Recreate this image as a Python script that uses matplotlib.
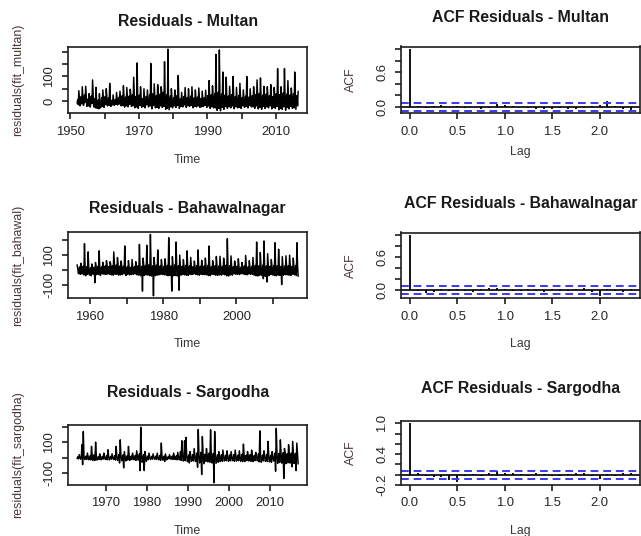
import numpy as np
import matplotlib
matplotlib.use("Agg")
import matplotlib.pyplot as plt

plt.rcParams['font.family'] = ['Liberation Sans', 'DejaVu Sans']

# residual series, 6 values per year (bimonthly)
multan_start = 1952.0
multan_res = [
    -8, 6, -15, 42, 10, -20,  -5, 18, -12, 58, 22, -18,  -10, 25, -6, 60, 15, -22,
    -14, 8, -20, 30, 12, -25,  -6, 20, -10, 86, 28, -24,  -18, 10, -28, 55, 6, -30,
    -20, 4, -32, 30, -5, -28,  -12, 14, -22, 45, 8, -26,  -10, 18, -15, 50, 20, -20,
    -8, 12, -18, 72, 16, -22,  -14, 2, -16, 25, 4, -18,  -10, 6, -14, 35, 8, -16,
    -6, 15, -12, 40, 12, -20,  -12, 22, -18, 62, 24, -25,  -8, 16, -20, 55, 18, -24,
    -10, 20, -14, 48, 26, -22,  -15, 25, -20, 97, 30, -28,  -12, 18, -24, 155, 22, -30,
    -8, 24, -18, 58, 20, -26,  -14, 10, -22, 50, 14, -28,  -10, 18, -16, 45, 12, -24,
    -12, 26, -20, 153, 28, -32,  -10, 30, -18, 70, 24, -28,  -16, 22, -26, 67, 35, -30,
    -8, 28, -20, 58, 40, -26,  -14, 35, -22, 160, 30, -34,  -18, 25, -30, 211, 20, -36,
    -10, 20, -24, 50, 15, -28,  -12, 14, -20, 45, 18, -26,  -8, 22, -18, 104, 12, -30,
    -14, 10, -22, 35, 8, -24,  -10, 18, -16, 55, 14, -26,  -12, 14, -20, 50, 10, -22,
    -8, 20, -18, 58, 16, -28,  -10, 12, -22, 45, 14, -24,  -14, 16, -20, 53, 10, -26,
    -12, 10, -24, 40, 8, -22,  -8, 14, -18, 44, 12, -26,  -10, 22, -20, 83, 18, -30,
    -14, 26, -24, 62, 22, -28,  -12, 30, -28, 190, 25, -38,  -16, 35, -30, 208, 28, -40,
    -10, 28, -26, 118, 30, -34,  -14, 24, -22, 97, 20, -30,  -12, 20, -24, 60, 18, -28,
    -10, 26, -20, 100, 22, -32,  -14, 18, -24, 55, 14, -28,  -12, 22, -26, 72, 16, -30,
    -10, 14, -20, 45, 12, -26,  -8, 20, -22, 100, 18, -28,  -12, 16, -18, 50, 14, -24,
    -10, 22, -24, 58, 20, -30,  -14, 26, -20, 86, 24, -32,  -12, 30, -26, 94, 22, -34,
    -10, 24, -22, 60, 26, -30,  -8, 28, -24, 58, 20, -28,  -12, 22, -20, 67, 30, -32,
    -14, 18, -26, 55, 24, -30,  -10, 30, -22, 132, 28, -36,  -12, 26, -30, 58, 22, -34,
    -8, 32, -24, 132, 30, -38,  -14, 28, -26, 83, 26, -32,  -12, 24, -22, 53, 20, -30,
    -10, 30, -28, 118, 26, -34,  -8, 22, -20, 39,
]

bahawal_start = 1956.5
bahawal_res = [
    33, 10, -25,
    -15, 20, -30, 45, 12, -28,  -20, 25, -35, 178, 30, -40,  -18, 22, -30, 122, 18, -35,
    -12, 15, -40, 40, 20, -30,  -20, 18, -87, 50, 25, -32,  -15, 24, -30, 129, 22, -38,
    -18, 20, -28, 51, 30, -30,  -14, 26, -32, 62, 35, -28,  -16, 22, -30, 55, 38, -34,
    -20, 28, -36, 122, 40, -30,  -14, 32, -30, 84, 45, -36,  -18, 26, -34, 60, 30, -32,
    -12, 24, -27, 162, 28, -38,  -16, 20, -30, 62, 25, -34,  -20, 18, -32, 70, 22, -30,
    -14, 22, -28, 55, 26, -34,  -18, 28, -36, 173, 30, -40,  -22, 24, -144, 80, 35, -38,
    -16, 30, -34, 167, 40, -36,  -20, 35, -40, 240, 45, -42,  -18, 28, -176, 84, 30, -40,
    -14, 32, -36, 135, 38, -34,  -16, 26, -30, 70, 28, -32,  -20, 24, -34, 75, 30, -36,
    -18, 30, -40, 218, 42, -38,  -22, 26, -144, 90, 35, -40,  -16, 34, -38, 189, 40, -42,
    -20, 28, -138, 100, 32, -36,  -14, 24, -32, 70, 28, -34,  -18, 30, -36, 129, 35, -38,
    -16, 26, -30, 85, 30, -32,  -12, 22, -28, 60, 25, -30,  -18, 28, -34, 135, 32, -36,
    -14, 24, -30, 65, 28, -32,  -16, 26, -32, 80, 30, -34,  -20, 30, -38, 162, 35, -40,
    -14, 22, -30, 62, 26, -32,  -18, 28, -36, 91, 32, -38,  -16, 26, -34, 92, 30, -36,
    -14, 24, -30, 80, 28, -34,  -20, 32, -40, 211, 38, -42,  -16, 28, -34, 95, 30, -36,
    -12, 22, -28, 60, 25, -30,  -14, 24, -30, 75, 28, -32,  -10, 18, -26, 50, 22, -28,
    -16, 26, -32, 98, 30, -34,  -12, 20, -28, 62, 24, -30,  -16, 24, -30, 84, 28, -36,
    -20, 30, -40, 189, 35, -42,  -18, 28, -36, 118, 32, -38,  -22, 32, -60, 196, 36, -44,
    -18, 26, -82, 110, 30, -40,  -14, 24, -32, 70, 28, -34,  -20, 30, -38, 184, 34, -40,
    -18, 28, -36, 140, 30, -38,  -16, 24, -100, 90, 28, -36,  -14, 26, -32, 95, 30, -34,
    -18, 28, -36, 100, 32, -38,  -16, 24, -30, 80, 28, -34,  -20, 30, -38, 184, 35, -42,
]

sargodha_start = 1963.0
sargodha_res = [
    -4, 6, -8, 20, 5, -10,  -6, 85, -46, 172, 10, -12,  -8, 10, -12, 30, 8, -14,
    -6, 12, -15, 74, 14, -18,  -10, 20, -18, 102, 15, -16,  -8, 6, -12, 25, 10, -14,
    -6, 8, -10, 30, 6, -12,  -8, 12, -14, 52, 10, -15,  -5, 8, -10, 25, 6, -12,
    -8, 14, -16, 74, 12, -18,  -10, 20, -35, 117, 15, -20,  -12, 18, -67, 40, 10, -22,
    -8, 12, -16, 74, 14, -18,  -6, 10, -12, 30, 8, -14,  -10, 15, -18, 45, 12, -16,
    -12, 25, -85, 200, 20, -30,  -15, 20, -85, 40, 15, -25,  -8, 10, -14, 30, 8, -12,
    -6, 8, -10, 25, 6, -10,  -8, 10, -12, 30, 8, -14,  -10, 15, -18, 96, 12, -16,
    -12, 10, -25, 25, 6, -14,  -5, 6, -8, 20, 5, -10,  -8, 10, -12, 30, 8, -12,
    -6, 12, -14, 35, 10, -14,  -10, 40, -18, 111, 20, -22,  -12, 111, -20, 133, 25, -26,
    -14, 18, -35, 40, 15, -24,  -12, 20, -22, 60, 18, -25,  -18, 30, -63, 185, 25, -35,
    -15, 35, -111, 139, 30, -40,  -12, 22, -25, 60, 20, -28,  -16, 30, -30, 183, 25, -35,
    -20, 28, -165, 172, 22, -38,  -12, 18, -30, 40, 15, -26,  -10, 20, -24, 50, 16, -22,
    -8, 16, -20, 45, 14, -24,  -10, 18, -22, 40, 12, -20,  -12, 20, -24, 50, 15, -22,
    -8, 16, -20, 45, 12, -24,  -10, 22, -26, 89, 18, -25,  -8, 16, -20, 40, 14, -22,
    -12, 20, -24, 50, 16, -26,  -10, 15, -20, 35, 12, -20,  -14, 25, -28, 176, 20, -30,
    -10, 18, -22, 45, 15, -24,  -12, 22, -26, 107, 18, -28,  -10, 16, -30, 40, 14, -22,
    -16, 30, -89, 193, 35, -38,  -14, 28, -32, 117, 30, -36,  -18, 32, -137, 60, 28, -40,
    -14, 26, -34, 85, 30, -36,  -16, 30, -60, 107, 32, -38,  -18, 28, -85, 96, 30, -40,
]

# autocorrelations, lag 0..28 (monthly lags shown in years)
multan_acf = [1.0, 0.01, -0.02, 0.02, 0.03, -0.01, 0.01, -0.02, 0.0, -0.03, -0.02,
              0.05, 0.03, 0.02, -0.01, -0.02, -0.03, -0.04, -0.03, -0.02, -0.03,
              -0.04, -0.02, 0.02, 0.03, 0.10, 0.02, -0.03, -0.05]
bahawal_acf = [1.0, -0.02, -0.05, -0.04, 0.01, -0.02, 0.01, -0.03, -0.04, 0.02, 0.03,
               0.03, 0.02, -0.02, -0.03, 0.01, -0.03, -0.04, 0.01, -0.02, -0.03,
               0.02, 0.03, -0.04, -0.11, 0.02, -0.03, -0.04, 0.02]
sargodha_acf = [1.0, 0.03, -0.03, -0.05, -0.04, -0.10, -0.14, -0.03, 0.02, -0.02, 0.03,
                0.07, 0.04, 0.03, 0.02, -0.02, 0.03, 0.02, -0.03, -0.02, 0.02,
                0.03, 0.03, -0.02, -0.08, 0.02, -0.03, 0.04, 0.03]
ci = [0.070, 0.073, 0.077]

names = ["Multan", "Bahawalnagar", "Sargodha"]
ylabels = ["residuals(fit_multan)", "residuals(fit_bahawal)", "residuals(fit_sargodha)"]
series = [(multan_start, multan_res), (bahawal_start, bahawal_res), (sargodha_start, sargodha_res)]
acfs = [multan_acf, bahawal_acf, sargodha_acf]

res_yticks = [[0, 50, 100, 150, 200], [-100, 0, 100, 200], [-100, 0, 100, 200]]
res_ylabs = [["0", "", "100", "", ""], ["-100", "", "100", ""], ["-100", "", "100", ""]]
res_xticks = [[1950, 1960, 1970, 1980, 1990, 2000, 2010],
              [1960, 1970, 1980, 1990, 2000, 2010],
              [1970, 1980, 1990, 2000, 2010]]
res_xlabs = [["1950", "", "1970", "", "1990", "", "2010"],
             ["1960", "", "1980", "", "2000", ""],
             ["1970", "1980", "1990", "2000", "2010"]]
acf_yticks = [[0, 0.2, 0.4, 0.6, 0.8, 1.0], [0, 0.2, 0.4, 0.6, 0.8, 1.0],
              [-0.2, 0, 0.2, 0.4, 0.6, 0.8, 1.0]]
acf_ylabs = [["0.0", "", "", "0.6", "", ""], ["0.0", "", "", "0.6", "", ""],
             ["-0.2", "", "", "0.4", "", "", "1.0"]]

W, H = 641, 536
fig = plt.figure(figsize=(W / 100, H / 100), dpi=100)

# boxes in pixels: (left, top, right, bottom)
left_boxes = [(68.3, 46.7, 307, 113.3), (68.3, 232, 307, 298.3), (68.3, 425, 307, 485)]
right_boxes = [(401, 46.5, 640, 113.3), (401, 232.5, 640, 298.3), (401, 421, 640, 485)]
left_title_y = [22, 208, 393]
right_title_y = [17, 203, 388]
left_xlab_y = [160, 344, 531]
right_xlab_y = [152, 344, 531]

txt = '#262626'


def make_ax(box):
    l, t, r, b = box
    return fig.add_axes([l / W, 1 - b / H, (r - l) / W, (b - t) / H])


def style(ax, box, xlab_y, ylab, xlab):
    l, t, r, b = box
    for s in ax.spines.values():
        s.set_linewidth(1.2)
        s.set_color('#1e1e1e')
    ax.tick_params(length=4.3, width=1.2, color='#1e1e1e', labelsize=9.4, labelcolor=txt)
    ax.tick_params(axis='x', pad=4.5)
    ax.tick_params(axis='y', pad=5)
    for lab in ax.get_yticklabels():
        lab.set_rotation(90)
        lab.set_va('center')
    ax.set_xlabel(xlab, fontsize=8.9, color='#363636')
    ax.set_ylabel(ylab, fontsize=8.9, color='#4a3434')
    ax.xaxis.set_label_coords(0.5, -(xlab_y - b) / (b - t))
    ax.xaxis.label.set_va('center')
    ax.yaxis.set_label_coords(-50.5 / (r - l), 0.5)
    ax.yaxis.label.set_va('center')


for i in range(3):
    start, vals = series[i]
    t = start + np.arange(len(vals)) / 6.0
    box = left_boxes[i]
    ax = make_ax(box)
    ax.plot(t, vals, color='black', lw=1.05)
    ax.margins(x=0.04, y=0.04)
    ax.set_xticks(res_xticks[i])
    ax.set_xticklabels(res_xlabs[i])
    ax.set_yticks(res_yticks[i])
    ax.set_yticklabels(res_ylabs[i])
    style(ax, box, left_xlab_y[i], ylabels[i], "Time")
    fig.text((box[0] + box[2]) / 2 / W, 1 - left_title_y[i] / H, "Residuals - " + names[i],
             ha='center', va='center', fontsize=11.4, fontweight='bold', color='#1a1a1a')

    acf = acfs[i]
    lags = np.arange(len(acf)) / 12.0
    box = right_boxes[i]
    ax = make_ax(box)
    ax.vlines(lags, 0, acf, color='black', lw=1.3)
    ax.axhline(0, color='black', lw=1.2)
    ax.axhline(ci[i], color='#3a3af0', lw=1.4, ls=(0, (4, 2.5)))
    ax.axhline(-ci[i], color='#3a3af0', lw=1.4, ls=(0, (4, 2.5)))
    lo = min(min(acf), -ci[i])
    hi = 1.0
    pad = 0.04 * (hi - lo)
    ax.set_ylim(lo - pad, hi + pad)
    xpad = 0.04 * lags[-1]
    ax.set_xlim(-xpad, lags[-1] + xpad)
    ax.set_xticks([0, 0.5, 1.0, 1.5, 2.0])
    ax.set_xticklabels(["0.0", "0.5", "1.0", "1.5", "2.0"])
    ax.set_yticks(acf_yticks[i])
    ax.set_yticklabels(acf_ylabs[i])
    style(ax, box, right_xlab_y[i], "ACF", "Lag")
    fig.text((box[0] + box[2]) / 2 / W, 1 - right_title_y[i] / H, "ACF Residuals - " + names[i],
             ha='center', va='center', fontsize=11.4, fontweight='bold', color='#1a1a1a')

fig.savefig("out.png", dpi=100)
